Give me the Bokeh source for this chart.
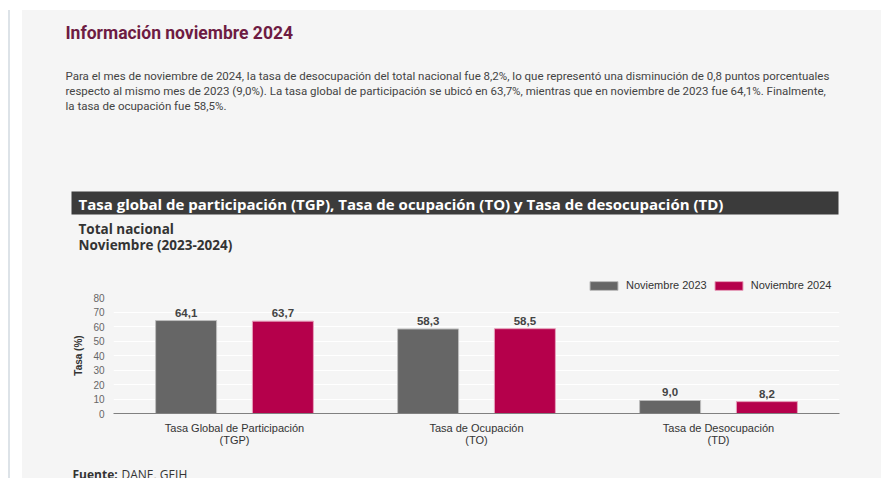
from bokeh.plotting import figure
from bokeh.models import (ColumnDataSource, FactorRange, Range1d, Legend, LegendItem, Spacer, FixedTicker)
from bokeh.layouts import column, row
from bokeh.transform import dodge
from bokeh.core.properties import value
from bokeh.embed import file_html
from bokeh.resources import INLINE

# ---------------- data ----------------
categories = ["Tasa Global de Participación\n(TGP)", "Tasa de Ocupación\n(TO)", "Tasa de Desocupación\n(TD)"]
nov_2023 = [64.1, 58.3, 9.0]
nov_2024 = [63.7, 58.5, 8.2]
series_names = ["Noviembre 2023", "Noviembre 2024"]
y_ticks = [0, 10, 20, 30, 40, 50, 60, 70, 80]

heading = "Información noviembre 2024"
paragraph = [
    "Para el mes de noviembre de 2024, la tasa de desocupación del total nacional fue 8,2%, lo que representó una disminución de 0,8 puntos porcentuales",
    "respecto al mismo mes de 2023 (9,0%). La tasa global de participación se ubicó en 63,7%, mientras que en noviembre de 2023 fue 64,1%. Finalmente,",
    "la tasa de ocupación fue 58,5%.",
]
chart_title = "Tasa global de participación (TGP), Tasa de ocupación (TO) y Tasa de desocupación (TD)"
subtitle = ["Total nacional", "Noviembre (2023-2024)"]
source_bold = "Fuente:"
source_text = "DANE, GEIH"

# ---------------- styles ----------------
PANEL = "#f5f5f5"
GRAY = "#666666"
RED = "#b5004b"
ARIAL = "Liberation Sans"
W = 859


def blank_fig(height, y_top, y_bottom):
    """Figure whose frame fills the canvas; x/y ranges are page pixels."""
    f = figure(width=W, height=height, x_range=Range1d(22, 881), y_range=Range1d(y_bottom, y_top),
               x_axis_type=None, y_axis_type=None, output_backend="svg", toolbar_location=None,
               min_border=0, min_border_left=0, min_border_right=0, min_border_top=0, min_border_bottom=0,
               frame_align=False)
    f.background_fill_color = PANEL
    f.border_fill_color = PANEL
    f.outline_line_color = None
    f.grid.grid_line_color = None
    return f


# ---------------- header ----------------
h = blank_fig(281, 10, 291)
h.text(x=[65], y=[32], text=[heading],
       text_font=value("Roboto"),
       text_font_size="17.5px", text_font_style="bold", text_color="#6e1c43",
       text_baseline="middle")
h.text(x=[65] * len(paragraph), y=[75, 90, 105], text=paragraph,
       text_font=value("Roboto"), text_font_size="11.5px", text_color="#444444",
       text_baseline="middle")
h.quad(left=[71], right=[838], top=[191], bottom=[214], fill_color="#3b3b3b", line_color=None)
h.text(x=[78], y=[203], text=[chart_title], text_font=value("Open Sans"),
       text_font_size="15px", text_font_style="bold", text_color="#ffffff",
       text_baseline="middle")
h.text(x=[78, 78], y=[228, 244], text=subtitle, text_font=value("Open Sans"),
       text_font_size="13.5px", text_font_style="bold", text_color="#333333",
       text_baseline="middle")

# legend swatches (renderers with an undefined point, drawn only in the legend)
nan = float("nan")
lg23 = h.vbar(x=[nan], top=[nan], width=1, fill_color=GRAY, line_color="#bdbdbd")
lg24 = h.vbar(x=[nan], top=[nan], width=1, fill_color=RED, line_color="#e6a0bb")
legend = Legend(items=[LegendItem(label=series_names[0], renderers=[lg23]),
                       LegendItem(label=series_names[1], renderers=[lg24])],
                location=(564, 0), orientation="horizontal",
                glyph_width=35, glyph_height=11, label_height=11, label_standoff=5,
                spacing=4, padding=0, margin=0,
                background_fill_alpha=0, border_line_alpha=0,
                label_text_font=ARIAL, label_text_font_size="11px", label_text_color="#333333")
h.add_layout(legend, "center")

# ---------------- chart ----------------
def fmt(v):
    return f"{v:.1f}".replace(".", ",")


src = ColumnDataSource(dict(
    cat=categories,
    v23=nov_2023, v24=nov_2024,
    l23=[fmt(v) for v in nov_2023], l24=[fmt(v) for v in nov_2024],
))

p = figure(x_range=FactorRange(*categories), y_range=Range1d(0, 80),
           width=W, height=169, output_backend="svg", toolbar_location=None,
           min_border_left=91, min_border_right=42, min_border_top=6, min_border_bottom=47,
           frame_align=False)
p.background_fill_color = PANEL
p.border_fill_color = PANEL
p.outline_line_color = None

p.vbar(x=dodge("cat", -0.2, range=p.x_range), top="v23", width=0.252, source=src,
       fill_color=GRAY, line_color="#bdbdbd", line_width=1)
p.vbar(x=dodge("cat", 0.2, range=p.x_range), top="v24", width=0.252, source=src,
       fill_color=RED, line_color="#e6a0bb", line_width=1)

for key, off in (("23", -0.2), ("24", 0.2)):
    p.text(x=dodge("cat", off, range=p.x_range), y="v" + key, text="l" + key, source=src,
           text_align="center", text_baseline="bottom", y_offset=-4,
           text_font=value(ARIAL), text_font_size="11.5px", text_font_style="bold",
           text_color="#444444")

p.yaxis.ticker = FixedTicker(ticks=y_ticks)
p.yaxis.axis_line_color = None
p.yaxis.major_tick_line_color = None
p.yaxis.minor_tick_line_color = None
p.yaxis.major_tick_out = 0
p.yaxis.major_label_standoff = 9
p.yaxis.major_label_text_font = ARIAL
p.yaxis.major_label_text_font_size = "10px"
p.yaxis.major_label_text_color = "#666666"
p.yaxis.axis_label = "Tasa (%)"
p.yaxis.axis_label_text_font = ARIAL
p.yaxis.axis_label_text_font_size = "10px"
p.yaxis.axis_label_text_font_style = "bold"
p.yaxis.axis_label_text_color = "#333333"
p.yaxis.axis_label_standoff = 6

p.xaxis.axis_line_color = "#808080"
p.xaxis.major_tick_line_color = None
p.xaxis.minor_tick_line_color = None
p.xaxis.major_tick_out = 0
p.xaxis.major_label_standoff = 8
p.xaxis.major_label_text_font = ARIAL
p.xaxis.major_label_text_font_size = "11px"
p.xaxis.major_label_text_color = "#333333"
p.xaxis.major_label_text_line_height = 1.05

p.xgrid.grid_line_color = None
p.ygrid.ticker = FixedTicker(ticks=y_ticks)
p.ygrid.grid_line_color = "#ffffff"

# ---------------- footer ----------------
foot = blank_fig(18, 460, 478)
foot.text(x=[72], y=[474], text=[source_bold], text_font=value("Open Sans"),
          text_font_size="12px", text_font_style="bold", text_color="#333333",
          text_baseline="middle")
foot.text(x=[121], y=[474], text=[source_text], text_font=value("Open Sans"),
          text_font_size="12px", text_color="#333333", text_baseline="middle")

strip = Spacer(width=22, height=468,
               styles={"background": "linear-gradient(90deg, #ffffff 8px, #dde3e8 8px, #dde3e8 10px, #ffffff 10px)"})
panel = column(h, p, foot, styles={"background": PANEL})
layout = column(Spacer(width=881, height=10), row(strip, panel))

open("out.html", "w").write(file_html(layout, INLINE))
